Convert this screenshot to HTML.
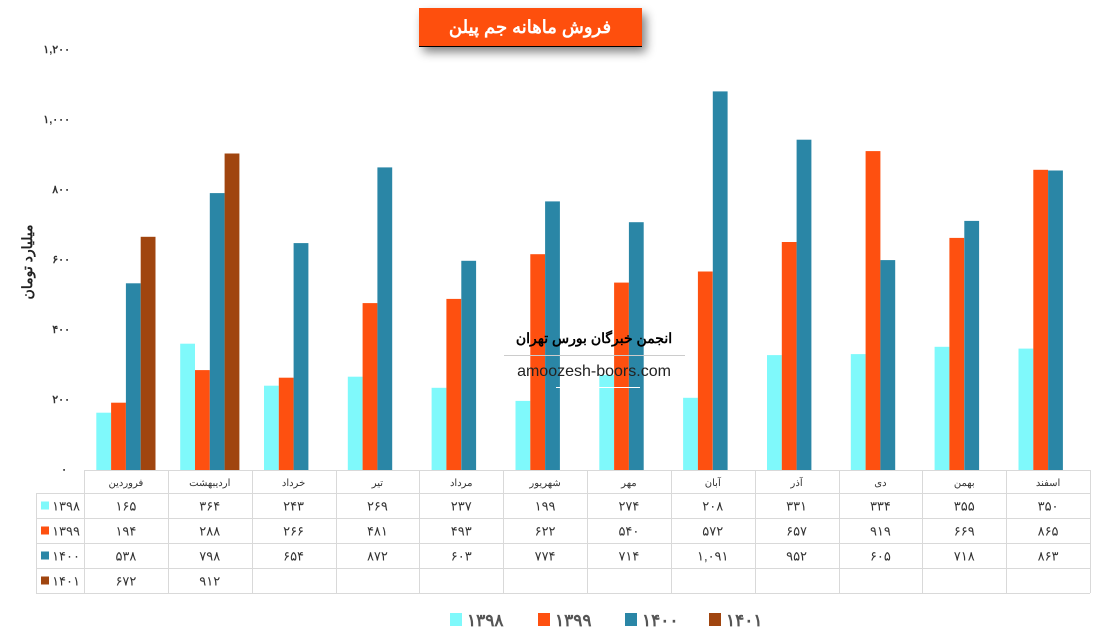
<!DOCTYPE html>
<html><head><meta charset="utf-8">
<style>
html,body{margin:0;padding:0;background:#fff;width:1100px;height:636px;overflow:hidden}
svg{display:block;font-family:"Liberation Sans","Noto Sans CJK SC",sans-serif}
</style></head>
<body>
<svg id="s" width="1100" height="636" viewBox="0 0 1100 636" xmlns="http://www.w3.org/2000/svg">
<defs>
<filter id="sh" x="-20%" y="-50%" width="140%" height="220%">
<feGaussianBlur in="SourceAlpha" stdDeviation="5"/><feOffset dx="4" dy="6"/>
<feComponentTransfer><feFuncA type="linear" slope="0.5"/></feComponentTransfer>
<feMerge><feMergeNode/><feMergeNode in="SourceGraphic"/></feMerge></filter>
</defs>
<rect x="419" y="8" width="223" height="38" fill="#fe5010" filter="url(#sh)"/>
<line x1="419" y1="46.5" x2="642" y2="46.5" stroke="#000" stroke-width="1"/>
<text x="530" y="33" text-anchor="middle" fill="#fff" font-size="18" font-weight="bold">فروش ماهانه جم پیلن</text>
<text transform="translate(32,262) rotate(-90)" text-anchor="middle" font-size="14" font-weight="bold" fill="#222">میلیارد تومان</text>
<g id="g"></g>
</svg>
<script>
const fa=s=>String(s).replace(/\d/g,d=>'۰۱۲۳۴۵۶۷۸۹'[d]);
const data=[[165,364,243,269,237,199,274,208,331,334,355,350],
[194,288,266,481,493,622,540,572,657,919,669,865],
[538,798,654,872,603,774,714,1091,952,605,718,863],
[672,912]];
const cols=['#7ff9fb','#fe5010','#2a86a6','#a0450f'];
const names=['۱۳۹۸','۱۳۹۹','۱۴۰۰','۱۴۰۱'];
const months=['فروردین','اردیبهشت','خرداد','تیر','مرداد','شهریور','مهر','آبان','آذر','دی','بهمن','اسفند'];
let h='';
const y0=470,k=0.347,x0=84,cw=(1090-84)/12,bw=14.8;
const yl=['۰','۲۰۰','۴۰۰','۶۰۰','۸۰۰','۱,۰۰۰','۱,۲۰۰'];
yl.forEach((t,i)=>{h+=`<text x="${i==0?67:70}" y="${y0-i*70+3}" text-anchor="end" font-size="11" font-weight="bold" fill="#333">${t}</text>`});
for(let s=0;s<4;s++)data[s].forEach((v,m)=>{
 const cx=x0+cw*(m+.5);const x=cx-29.6+s*bw;
 h+=`<rect x="${x.toFixed(1)}" y="${(y0-v*k).toFixed(1)}" width="${bw}" height="${(v*k).toFixed(1)}" fill="${cols[s]}"/>`;
});
h+=`<text x="594" y="343" text-anchor="middle" font-size="14" font-weight="bold" fill="#000">انجمن خبرگان بورس تهران</text>`;
h+=`<line x1="504" y1="355.5" x2="685" y2="355.5" stroke="#ccc"/>`;
h+=`<text x="594" y="376" text-anchor="middle" font-size="16" fill="#222">amoozesh-boors.com</text>`;
h+=`<line x1="556" y1="387.5" x2="640" y2="387.5" stroke="#fff"/>`;
const st='stroke="#d9d9d9" stroke-width="1"';
const rows=[470,493,518,543,568,593];
h+=`<line x1="84" y1="470.5" x2="1090" y2="470.5" ${st}/>`;
for(let i=1;i<rows.length;i++)h+=`<line x1="36" y1="${rows[i]+.5}" x2="1090" y2="${rows[i]+.5}" ${st}/>`;
h+=`<line x1="36.5" y1="493" x2="36.5" y2="593" ${st}/>`;
for(let m=0;m<=12;m++){const x=Math.round(x0+cw*m)+.5;h+=`<line x1="${x}" y1="470" x2="${x}" y2="593" ${st}/>`;}
months.forEach((t,m)=>{h+=`<text x="${x0+cw*(m+.5)}" y="486" text-anchor="middle" font-size="10" fill="#333">${t}</text>`});
for(let s=0;s<4;s++){
 const yc=(rows[s+1]+rows[s+2])/2;
 h+=`<rect x="41" y="${yc-4}" width="8" height="8" fill="${cols[s]}"/>`;
 h+=`<text x="80" y="${yc+5}" text-anchor="end" font-size="13" fill="#333">${names[s]}</text>`;
 data[s].forEach((v,m)=>{h+=`<text x="${x0+cw*(m+.5)}" y="${yc+5}" text-anchor="middle" font-size="13" fill="#333">${fa(v.toLocaleString('en-US'))}</text>`});
}
[450,538,625,709].forEach((x,s)=>{
 h+=`<rect x="${x}" y="613" width="12" height="13" fill="${cols[s]}"/>`;
 h+=`<text x="${x+17}" y="626" font-size="17" font-weight="bold" fill="#555">${names[s]}</text>`;
});
document.getElementById('g').innerHTML=h;
</script>
</body></html>
